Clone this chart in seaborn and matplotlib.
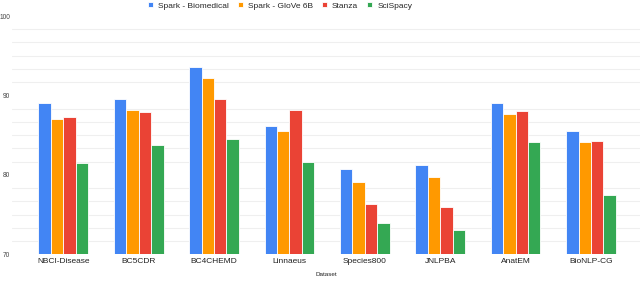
import numpy as np
import pandas as pd
import matplotlib
matplotlib.use('Agg')
import matplotlib.pyplot as plt
import seaborn as sns

# Data
datasets = ['NBCI-Disease', 'BC5CDR', 'BC4CHEMD', 'Linnaeus',
            'Species800', 'JNLPBA', 'AnatEM', 'BioNLP-CG']
models = ['Spark - Biomedical', 'Spark - GloVe 6B', 'Stanza', 'SciSpacy']
spark_bio = [89.0, 89.6, 93.6, 86.1, 80.8, 81.2, 89.0, 85.5]
spark_glove = [87.0, 88.2, 92.2, 85.5, 79.1, 79.7, 87.6, 84.2]
stanza = [87.3, 87.9, 89.5, 88.2, 76.3, 76.0, 88.1, 84.3]
scispacy = [81.5, 83.8, 84.5, 81.6, 74.0, 73.1, 84.1, 77.5]

colors = ['#4285F4', '#FF9900', '#EA4335', '#34A853']

df = pd.DataFrame({
    'Dataset': datasets * 4,
    'Model': np.repeat(models, len(datasets)),
    'Score': spark_bio + spark_glove + stanza + scispacy,
})

sns.set_style('white')
plt.rcParams['font.family'] = ['Liberation Sans', 'DejaVu Sans']

fig = plt.figure(figsize=(6.4, 2.81), dpi=100)
ax = fig.add_axes([12 / 640, 1 - 254.3 / 281, 628 / 640, (254.3 - 16) / 281])

sns.barplot(data=df, x='Dataset', y='Score', hue='Model', palette=colors,
            saturation=1, width=0.66, edgecolor='white', linewidth=0.6,
            ax=ax, zorder=3)

ax.set_ylim(70, 100)
ax.set_xlim(-0.68, 7.65)
ax.set_yticks([70, 80, 90, 100])
minor = [70 + i * 10 / 6 for i in range(19) if i % 6 != 0]
ax.set_yticks(minor, minor=True)
ax.yaxis.grid(True, which='minor', color='#efefef', linewidth=0.8, zorder=0)
ax.tick_params(axis='y', which='both', length=0, labelsize=4.8, colors='#444444', pad=1.2)
ax.tick_params(axis='x', length=0, labelsize=6, colors='#222222', pad=3)
for s in ax.spines.values():
    s.set_visible(False)

ax.set_ylabel('')
ax.set_xlabel('Dataset', fontsize=4.5, color='#222222', labelpad=5)

ax.legend(loc='lower center', bbox_to_anchor=((280 - 12) / 628, 1.0), ncol=4,
          frameon=False, fontsize=6, handlelength=0.6, handleheight=0.6,
          handletextpad=0.6, columnspacing=1.1, borderaxespad=0.35)

fig.savefig('out.png', dpi=100)
